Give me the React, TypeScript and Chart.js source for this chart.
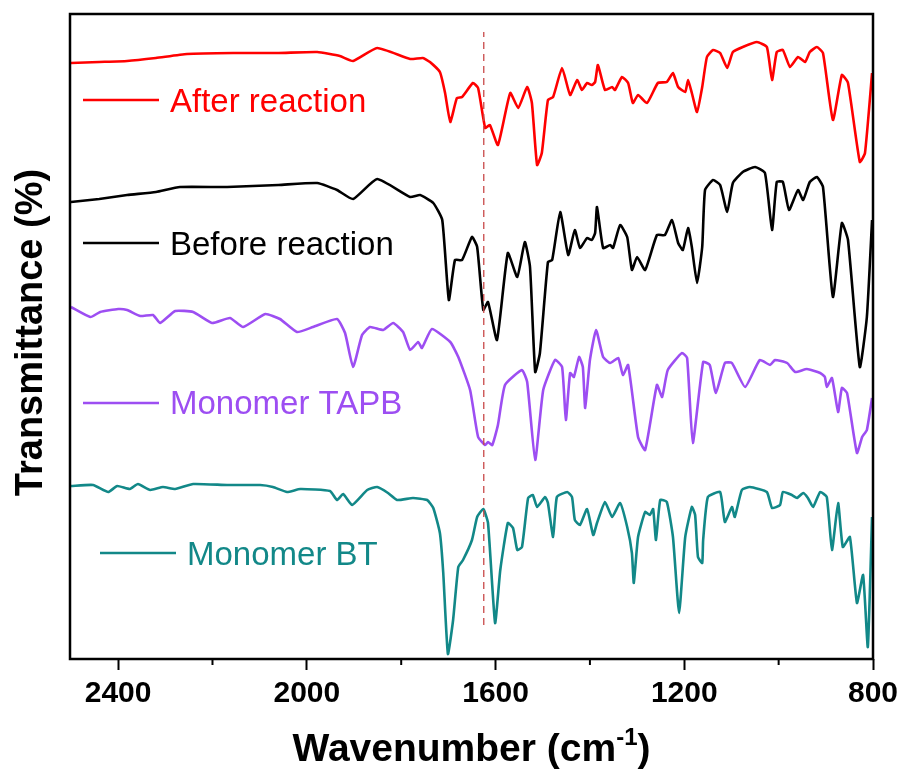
import React, { useEffect, useRef } from 'react';
import { Chart, registerables } from 'chart.js';

Chart.register(...registerables);

// ---------- data (wavenumber in cm-1, transmittance in arbitrary offset units) ----------
const seriesNames = ['After reaction', 'Before reaction', 'Monomer TAPB', 'Monomer BT'];
const seriesColors = ['#ff0000', '#000000', '#9d4ef2', '#128888'];

const afterWn = [
  2500, 2440, 2381, 2320, 2254, 2156, 2060, 1978, 1930, 1902,
  1851, 1781, 1754, 1739, 1718, 1707, 1696, 1682, 1671, 1648,
  1637, 1622, 1612, 1595, 1569, 1552, 1533, 1523, 1512, 1502,
  1489, 1478, 1459, 1442, 1427, 1417, 1406, 1396, 1389, 1383,
  1368, 1353, 1347, 1332, 1319, 1309, 1298, 1279, 1256, 1237,
  1224, 1213, 1198, 1192, 1184, 1173, 1162, 1152, 1139, 1124,
  1109, 1097, 1076, 1046, 1025, 1014, 1004, 991, 976, 959,
  944, 934, 919, 906, 885, 866, 853, 828, 817, 802,
];
const afterT = [
  596, 597, 598, 601, 605, 606, 606, 607, 603, 598,
  611, 600, 601, 597, 587, 566, 537, 561, 562, 576,
  571, 531, 534, 514, 566, 551, 572, 556, 494, 506,
  559, 562, 591, 564, 579, 569, 576, 574, 577, 594,
  569, 572, 569, 582, 576, 556, 564, 556, 576, 577,
  586, 572, 567, 579, 566, 547, 572, 602, 609, 606,
  591, 607, 612, 617, 612, 579, 607, 609, 592, 602,
  597, 607, 612, 606, 539, 584, 576, 497, 506, 586,
];

const beforeWn = [
  2500, 2440, 2381, 2320, 2269, 2169, 2060, 1978, 1936, 1902,
  1851, 1781, 1760, 1732, 1713, 1699, 1686, 1671, 1650, 1639,
  1626, 1616, 1597, 1574, 1554, 1538, 1527, 1516, 1506, 1489,
  1480, 1463, 1446, 1432, 1421, 1406, 1396, 1389, 1385, 1372,
  1357, 1351, 1336, 1321, 1311, 1300, 1283, 1258, 1241, 1226,
  1213, 1203, 1192, 1184, 1173, 1162, 1156, 1139, 1124, 1109,
  1097, 1076, 1050, 1029, 1014, 1004, 991, 978, 959, 948,
  934, 919, 906, 885, 866, 853, 828, 813, 802,
];
const beforeT = [
  457, 460, 464, 467, 472, 472, 474, 476, 469, 460,
  480, 462, 464, 456, 439, 359, 399, 399, 422, 412,
  349, 357, 319, 406, 382, 417, 392, 287, 306, 397,
  399, 447, 404, 429, 411, 421, 419, 426, 452, 411,
  414, 411, 434, 422, 389, 402, 389, 424, 424, 439,
  416, 409, 431, 412, 376, 412, 469, 479, 474, 447,
  476, 487, 492, 486, 429, 477, 477, 449, 469, 459,
  477, 482, 472, 362, 436, 419, 292, 342, 439,
];

const tapbWn = [
  2500, 2459, 2438, 2400, 2381, 2353, 2326, 2311, 2279, 2241,
  2201, 2163, 2135, 2088, 2057, 2021, 1987, 1936, 1919, 1902,
  1883, 1866, 1838, 1817, 1796, 1781, 1764, 1756, 1735, 1696,
  1679, 1654, 1637, 1622, 1616, 1607, 1595, 1580, 1544, 1533,
  1516, 1499, 1474, 1459, 1451, 1442, 1434, 1423, 1415, 1410,
  1400, 1387, 1372, 1357, 1340, 1330, 1319, 1298, 1283, 1258,
  1247, 1235, 1205, 1194, 1182, 1160, 1146, 1133, 1114, 1099,
  1071, 1040, 1018, 1008, 982, 965, 940, 912, 902, 898,
  887, 874, 866, 855, 834, 823, 813, 802,
];
const tapbT = [
  352, 342, 347, 350, 349, 343, 344, 336, 348, 347,
  336, 341, 332, 345, 340, 327, 332, 340, 326, 292,
  324, 332, 329, 336, 327, 309, 317, 311, 330, 317,
  302, 269, 222, 214, 217, 214, 234, 274, 289, 277,
  199, 269, 299, 292, 239, 286, 282, 302, 292, 251,
  299, 329, 302, 296, 301, 284, 294, 222, 209, 274,
  262, 289, 306, 301, 216, 297, 294, 266, 296, 296,
  272, 299, 294, 299, 296, 287, 290, 286, 282, 272,
  281, 247, 271, 266, 206, 222, 229, 261,
];

const btWn = [
  2500, 2453, 2421, 2402, 2375, 2358, 2332, 2305, 2279, 2241,
  2169, 2099, 2072, 2042, 2014, 1951, 1936, 1923, 1904, 1872,
  1851, 1828, 1809, 1775, 1745, 1732, 1718, 1711, 1701, 1690,
  1679, 1669, 1650, 1639, 1626, 1616, 1601, 1590, 1574, 1563,
  1554, 1544, 1531, 1521, 1512, 1495, 1489, 1478, 1470, 1448,
  1438, 1432, 1421, 1406, 1393, 1385, 1368, 1353, 1336, 1321,
  1311, 1307, 1298, 1283, 1273, 1266, 1260, 1251, 1237, 1224,
  1211, 1198, 1184, 1177, 1171, 1162, 1160, 1150, 1124, 1114,
  1099, 1093, 1078, 1061, 1025, 1014, 997, 991, 972, 961,
  948, 938, 927, 912, 898, 887, 874, 864, 849, 834,
  821, 811, 802,
];
const btT = [
  173, 174, 167, 173, 170, 175, 169, 172, 170, 175,
  174, 174, 172, 167, 170, 168, 159, 165, 154, 169,
  172, 166, 159, 161, 159, 151, 126, 87, 5, 39,
  92, 99, 119, 142, 150, 136, 36, 89, 136, 131,
  109, 112, 161, 164, 152, 162, 156, 122, 162, 167,
  162, 139, 134, 150, 124, 136, 157, 142, 156, 132,
  106, 76, 122, 147, 144, 150, 119, 159, 157, 122,
  46, 122, 152, 144, 102, 96, 119, 162, 167, 137,
  152, 142, 169, 172, 167, 151, 154, 167, 164, 161,
  166, 161, 152, 167, 162, 109, 156, 112, 122, 56,
  84, 12, 142,
];

const markerWn = [1625, 1625];
const markerT = [34, 627];

const xMajorTicks = [2400, 2000, 1600, 1200, 800];
const xMinorTicks = [2200, 1800, 1400, 1000];

const FONT = "'Liberation Sans', Arial, sans-serif";

const toPoints = (xs: number[], ys: number[]) => xs.map((x, i) => ({ x, y: ys[i] }));

// legend placement (pixels) – layout only
const legendLayout = [
  { x0: 83, x1: 159, lineY: 100, textX: 170, baseY: 112 },
  { x0: 83, x1: 159, lineY: 243, textX: 170, baseY: 255 },
  { x0: 83, x1: 159, lineY: 403, textX: 170, baseY: 414 },
  { x0: 100, x1: 176, lineY: 553, textX: 187, baseY: 565 },
];

const decorPlugin = {
  id: 'decor',
  afterDraw(chart: any) {
    const { ctx, chartArea: a } = chart;
    const xs = chart.scales.x;
    ctx.save();
    // frame
    ctx.strokeStyle = '#000';
    ctx.lineWidth = 2.5;
    ctx.strokeRect(a.left, a.top, a.right - a.left, a.bottom - a.top);
    // minor ticks
    ctx.lineWidth = 2;
    xMinorTicks.forEach((v) => {
      const px = xs.getPixelForValue(v);
      ctx.beginPath();
      ctx.moveTo(px, a.bottom);
      ctx.lineTo(px, a.bottom + 6);
      ctx.stroke();
    });
    // legend
    seriesNames.forEach((name, i) => {
      const L = legendLayout[i];
      ctx.strokeStyle = seriesColors[i];
      ctx.lineWidth = 2.5;
      ctx.beginPath();
      ctx.moveTo(L.x0, L.lineY);
      ctx.lineTo(L.x1, L.lineY);
      ctx.stroke();
      ctx.fillStyle = seriesColors[i];
      ctx.font = `33px ${FONT}`;
      ctx.textAlign = 'left';
      ctx.textBaseline = 'alphabetic';
      ctx.fillText(name, L.textX, L.baseY);
    });
    // x title with superscript
    ctx.fillStyle = '#000';
    const main = 'Wavenumber (cm';
    const sup = '-1';
    const close = ')';
    ctx.font = `bold 39px ${FONT}`;
    const wMain = ctx.measureText(main).width;
    const wClose = ctx.measureText(close).width;
    ctx.font = `bold 24px ${FONT}`;
    const wSup = ctx.measureText(sup).width;
    const total = wMain + wSup + wClose;
    const cx = (a.left + a.right) / 2;
    let x = cx - total / 2;
    const base = 761;
    ctx.textAlign = 'left';
    ctx.textBaseline = 'alphabetic';
    ctx.font = `bold 39px ${FONT}`;
    ctx.fillText(main, x, base);
    x += wMain;
    ctx.font = `bold 24px ${FONT}`;
    ctx.fillText(sup, x, base - 16);
    x += wSup;
    ctx.font = `bold 39px ${FONT}`;
    ctx.fillText(close, x, base);
    // y title
    ctx.translate(42, (a.top + a.bottom) / 2 - 4);
    ctx.rotate(-Math.PI / 2);
    ctx.font = `bold 38px ${FONT}`;
    ctx.textAlign = 'center';
    ctx.fillText('Transmittance (%)', 0, 0);
    ctx.restore();
  },
};

export default function App() {
  const ref = useRef<HTMLCanvasElement | null>(null);
  useEffect(() => {
    document.body.style.margin = '0';
    const canvas = ref.current;
    if (!canvas) return;
    const series = [
      toPoints(afterWn, afterT),
      toPoints(beforeWn, beforeT),
      toPoints(tapbWn, tapbT),
      toPoints(btWn, btT),
    ];
    const chart = new Chart(canvas, {
      type: 'line',
      data: {
        datasets: [
          {
            label: 'marker',
            data: toPoints(markerWn, markerT),
            borderColor: '#c84848',
            borderWidth: 1.3,
            borderDash: [7, 5],
            pointRadius: 0,
            fill: false,
          },
          ...series.map((d, i) => ({
            label: seriesNames[i],
            data: d,
            borderColor: seriesColors[i],
            borderWidth: 2.6,
            pointRadius: 0,
            tension: 0.15,
            fill: false,
          })),
        ],
      },
      options: {
        responsive: false,
        animation: false,
        events: [],
        layout: { padding: { left: 70, right: 28, top: 14, bottom: 0 } },
        plugins: { legend: { display: false }, tooltip: { enabled: false }, title: { display: false } },
        scales: {
          x: {
            type: 'linear',
            reverse: true,
            min: 800,
            max: 2502,
            afterFit: (s: any) => {
              s.height = 113;
              s.paddingLeft = 0;
              s.paddingRight = 0;
            },
            afterBuildTicks: (s: any) => {
              s.ticks = xMajorTicks.map((v) => ({ value: v }));
            },
            ticks: {
              includeBounds: false,
              autoSkip: false,
              maxRotation: 0,
              padding: 6,
              color: '#000',
              font: { family: FONT, size: 30, weight: 'bold' },
              callback: (v: any) => String(v),
            },
            grid: {
              display: true,
              drawOnChartArea: false,
              drawTicks: true,
              tickLength: 11,
              tickWidth: 2,
              tickColor: '#000',
            },
            border: { display: false },
          },
          y: {
            type: 'linear',
            display: false,
            min: 0,
            max: 645,
          },
        },
      },
      plugins: [decorPlugin],
    });
    return () => chart.destroy();
  }, []);
  return <canvas ref={ref} width={901} height={772} style={{ display: 'block' }} />;
}
